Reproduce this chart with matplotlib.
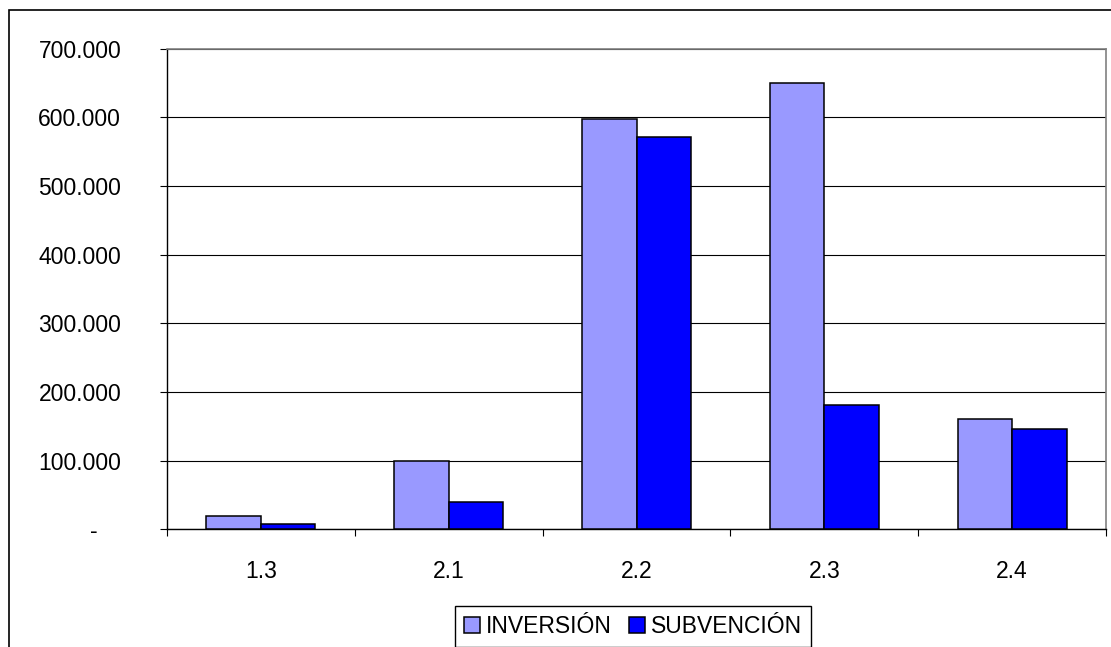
import numpy as np
import matplotlib
matplotlib.use("Agg")
import matplotlib.pyplot as plt
import matplotlib.transforms as mtransforms
from matplotlib.patches import Rectangle

categories = ["1.3", "2.1", "2.2", "2.3", "2.4"]
inversion = [20000, 100000, 598000, 650000, 160000]
subvencion = [7500, 40000, 571000, 181000, 146000]
series_names = ["INVERSIÓN", "SUBVENCIÓN"]
y_ticks = [0, 100000, 200000, 300000, 400000, 500000, 600000, 700000]

plt.rcParams['font.family'] = ['Liberation Sans', 'DejaVu Sans']
fs = 16.5

W, H = 1111, 647
fig = plt.figure(figsize=(W / 100, H / 100), dpi=100)
ax = fig.add_axes([167 / W, (H - 529.3) / H, (1106 - 167) / W, (529.3 - 48.5) / H])

x = np.arange(len(categories))
bw = 0.29
ax.bar(x - bw / 2, inversion, bw, color='#9999FF', edgecolor='black', lw=1.1,
       label=series_names[0], zorder=3)
ax.bar(x + bw / 2, subvencion, bw, color='#0000FF', edgecolor='black', lw=1.1,
       label=series_names[1], zorder=3)

ax.set_xlim(-0.5, len(categories) - 0.5)
ax.set_ylim(0, 700000)

# y axis
ax.set_yticks(y_ticks)
def fmt(v):
    if v == 0:
        return "-"
    return "{:,.0f}".format(v).replace(",", ".")
ax.set_yticklabels([fmt(v) for v in y_ticks], fontsize=fs)
ax.tick_params(axis='y', direction='out', length=5, width=0.8, pad=28, color='black')
ax.yaxis.grid(True, color='black', lw=0.8, zorder=0)
zero_lab = ax.get_yticklabels()[0]
zero_lab.set_transform(zero_lab.get_transform() +
                       mtransforms.ScaledTranslation(-24 / 100, 0, fig.dpi_scale_trans))

# x axis: labels at centers, tick marks at boundaries
ax.set_xticks(x)
ax.set_xticklabels(categories, fontsize=fs)
ax.tick_params(axis='x', which='major', length=0, pad=22)
ax.set_xticks(np.arange(-0.5, len(categories) + 0.5, 1), minor=True)
ax.tick_params(axis='x', which='minor', direction='out', length=5, width=0.8, color='black')

for s in ['top', 'right']:
    ax.spines[s].set_color('#808080')
    ax.spines[s].set_linewidth(1.2)
for s in ['left', 'bottom']:
    ax.spines[s].set_color('black')
    ax.spines[s].set_linewidth(1.0)

leg = fig.legend(loc='upper left', bbox_to_anchor=(455 / W, (H - 606) / H),
                 ncol=2, fontsize=fs, frameon=True, fancybox=False, shadow=False,
                 borderaxespad=0, borderpad=0.4, handlelength=0.7, handleheight=0.7,
                 handletextpad=0.26, columnspacing=0.74)
leg.get_frame().set_edgecolor('black')
leg.get_frame().set_linewidth(1.0)
leg.get_frame().set_alpha(None)

# outer chart border
fig.add_artist(Rectangle((9 / W, -0.1), 2, (H - 10) / H + 0.1, transform=fig.transFigure,
                         fill=False, ec='black', lw=1.2))

fig.savefig("out.png", dpi=100)
